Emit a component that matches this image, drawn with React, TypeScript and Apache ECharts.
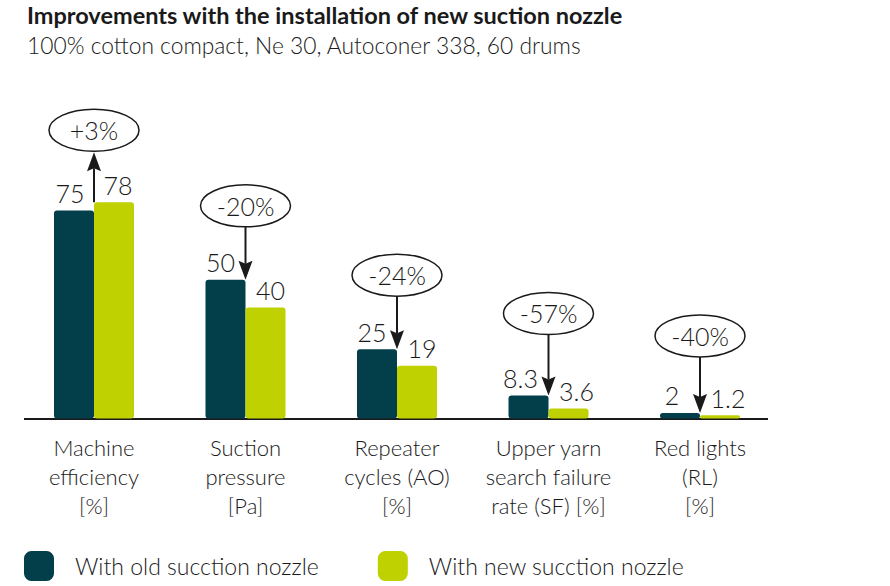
import * as echarts from 'echarts';
import { useEffect, useRef } from 'react';

const categories = [
  'Machine\nefficiency\n[%]',
  'Suction\npressure\n[Pa]',
  'Repeater\ncycles (AO)\n[%]',
  'Upper yarn\nsearch failure\nrate (SF) [%]',
  'Red lights\n(RL)\n[%]',
];
const oldNozzle = [75, 50, 25, 8.3, 2];
const newNozzle = [78, 40, 19, 3.6, 1.2];
const changeLabels = ['+3%', '-20%', '-24%', '-57%', '-40%'];

// how far (px) each callout ellipse sits above the taller bar of its group
const calloutLift = [72, 74, 74, 82, 77];
// sideways nudge (px) of the value labels, away from the arrow
const labelShift = [4, 5, 5, 8, 8];

const DARK = '#033f4b';
const GREEN = '#bfd100';
const INK = '#1a1a1a';
const FONT = 'Lato, "Open Sans", sans-serif';

export default function App() {
  const chartRef = useRef<HTMLDivElement>(null);

  useEffect(() => {
    if (!chartRef.current) return;
    const chart = echarts.init(chartRef.current, null, { renderer: 'svg' });

    const valueLabel = {
      show: true,
      position: 'top',
      distance: 5,
      fontFamily: FONT,
      fontWeight: 300,
      fontSize: 25,
      color: INK,
    };

    chart.setOption({
      animation: false,
      title: {
        text: 'Improvements with the installation of new suction nozzle',
        subtext: '100% cotton compact, Ne 30, Autoconer 338, 60 drums',
        left: 27,
        top: 3,
        padding: 0,
        itemGap: 6,
        textStyle: {
          fontFamily: FONT,
          fontWeight: 'bold',
          fontSize: 23.5,
          color: INK,
        },
        subtextStyle: {
          fontFamily: FONT,
          fontWeight: 300,
          fontSize: 22.8,
          color: INK,
        },
      },
      legend: {
        left: 24,
        top: 551,
        padding: 0,
        itemWidth: 30,
        itemHeight: 30,
        itemGap: 59,
        icon: 'roundRect',
        textStyle: {
          fontFamily: FONT,
          fontWeight: 300,
          fontSize: 23,
          color: INK,
          padding: [0, 0, 0, 16],
        },
        data: ['With old sucction nozzle', 'With new sucction nozzle'],
      },
      grid: {
        left: 18.25,
        right: 114.25,
        top: 141.2,
        bottom: 167.5,
      },
      xAxis: {
        type: 'category',
        data: categories,
        axisLine: { show: false },
        axisTick: { show: false },
        axisLabel: {
          margin: 14,
          fontFamily: FONT,
          fontWeight: 300,
          fontSize: 22,
          lineHeight: 29,
          color: INK,
          interval: 0,
        },
      },
      yAxis: {
        type: 'value',
        min: 0,
        max: 100,
        show: false,
        splitLine: { show: false },
      },
      series: [
        {
          name: 'With old sucction nozzle',
          type: 'bar',
          data: oldNozzle.map((v, i) => ({
            value: v,
            label: { offset: [-labelShift[i], 0] },
          })),
          barWidth: 40,
          barGap: '0%',
          itemStyle: { color: DARK, borderRadius: 3 },
          label: valueLabel,
        },
        {
          name: 'With new sucction nozzle',
          type: 'bar',
          data: newNozzle.map((v, i) => ({
            value: v,
            label: { offset: [labelShift[i], 0] },
          })),
          barWidth: 40,
          barGap: '0%',
          itemStyle: { color: GREEN, borderRadius: 3 },
          label: valueLabel,
        },
      ],
    });

    // callouts: ellipse with the change, arrow between ellipse and bar tops
    const rx = 45;
    const ry = 21;
    const head = 16;
    const half = 7;
    const graphics: any[] = [];
    const base = chart.convertToPixel({ xAxisIndex: 0, yAxisIndex: 0 }, [0, 0]);
    graphics.push({
      type: 'line',
      shape: { x1: 24, y1: base[1] + 0.5, x2: 768, y2: base[1] + 0.5 },
      style: { stroke: INK, lineWidth: 2 },
    });

    categories.forEach((_, i) => {
      const top = Math.max(oldNozzle[i], newNozzle[i]);
      const [cx, barTop] = chart.convertToPixel(
        { xAxisIndex: 0, yAxisIndex: 0 },
        [i, top],
      );
      const cy = barTop - calloutLift[i];
      const ellBottom = cy + ry;
      const up = newNozzle[i] > oldNozzle[i];
      const tipY = up ? ellBottom + 1 : barTop;
      const backY = up ? tipY + head : tipY - head;

      graphics.push({
        type: 'line',
        shape: up
          ? { x1: cx, y1: barTop, x2: cx, y2: backY }
          : { x1: cx, y1: ellBottom, x2: cx, y2: backY },
        style: { stroke: INK, lineWidth: 2 },
      });
      graphics.push({
        type: 'polygon',
        shape: {
          points: [
            [cx, tipY],
            [cx - half, backY + (up ? 3 : -3)],
            [cx, backY],
            [cx + half, backY + (up ? 3 : -3)],
          ],
        },
        style: { fill: INK },
      });
      graphics.push({
        type: 'ellipse',
        shape: { cx, cy, rx, ry },
        style: { fill: '#fff', stroke: INK, lineWidth: 1.5 },
      });
      graphics.push({
        type: 'text',
        x: cx,
        y: cy,
        style: {
          text: changeLabels[i],
          fontFamily: FONT,
          fontWeight: 300,
          fontSize: 25,
          fill: INK,
          align: 'center',
          verticalAlign: 'middle',
        },
      });
    });

    chart.setOption({ graphic: graphics });

    return () => {
      chart.dispose();
    };
  }, []);

  return (
    <div
      ref={chartRef}
      style={{
        position: 'fixed',
        left: 0,
        top: 0,
        width: 890,
        height: 586,
        background: '#fff',
      }}
    />
  );
}
